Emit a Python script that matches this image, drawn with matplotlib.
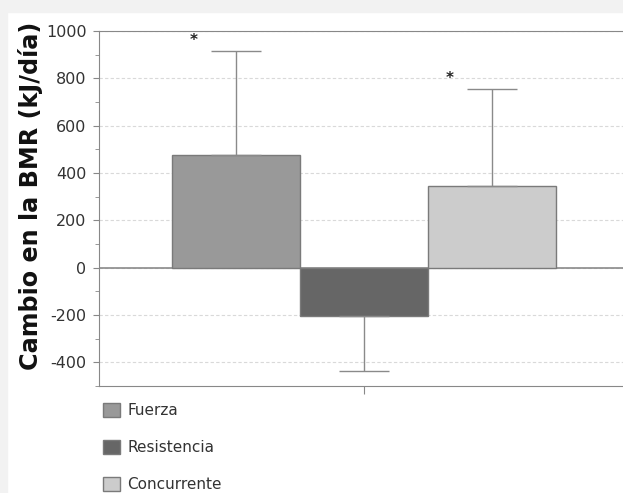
import matplotlib.pyplot as plt
from matplotlib.patches import Patch, Rectangle

# datos
grupos = ['Fuerza', 'Resistencia', 'Concurrente']
cambio = [478, -203, 346]
error_sup = [438, 0, 409]
error_inf = [0, 232, 0]
significativo = [True, False, True]
colores = ['#999999', '#666666', '#cccccc']

plt.rcParams['font.family'] = ['DejaVu Sans']
plt.rcParams['axes.unicode_minus'] = False

fig = plt.figure(figsize=(6.23, 4.93), dpi=100, facecolor='white')
# bordes grises del fondo
fig.patches.append(Rectangle((0, 1 - 12 / 493), 1, 12 / 493, transform=fig.transFigure,
                             color='#f2f2f2', zorder=-5))
fig.patches.append(Rectangle((0, 0), 7 / 623, 1, transform=fig.transFigure,
                             color='#f2f2f2', zorder=-5))

ax = fig.add_axes([99 / 623, 1 - 386 / 493, 530 / 623, 355 / 493])
pos = [-1, 0, 1]
for p, v, c, eu, ed in zip(pos, cambio, colores, error_sup, error_inf):
    ax.bar(p, v, width=1, color=c, edgecolor='#7a7a7a', linewidth=1, zorder=3)
    ax.errorbar(p, v, yerr=[[ed], [eu]], color='#8a8a8a', elinewidth=1,
                capsize=18, capthick=1, zorder=4)

for p, v, eu, s in zip(pos, cambio, error_sup, significativo):
    if s:
        ax.text(p - 0.33, v + eu + 45, '*', ha='center', va='center',
                fontsize=11, fontweight='bold', color='#222222')

ax.axhline(0, color='#8a8a8a', linewidth=1.2, zorder=2)
ax.set_ylim(-500, 1000)
ax.set_xlim(-2.07, 2.07)
ax.set_yticks(range(-400, 1001, 200))
ax.set_yticks(range(-500, 1001, 100), minor=True)
ax.set_xticks([0])
ax.set_xticklabels([''])
ax.yaxis.grid(True, linestyle=(0, (3, 2)), color='#d9d9d9', linewidth=0.8, zorder=0)
ax.tick_params(axis='y', labelsize=11.5, colors='#888888', labelcolor='#333333',
               length=4, direction='out', pad=5)
ax.tick_params(axis='y', which='minor', length=3, colors='#888888')
ax.tick_params(axis='x', length=6, colors='#888888')
for sp in ['left', 'bottom', 'top']:
    ax.spines[sp].set_color('#888888')
ax.spines['right'].set_visible(False)

ax.set_ylabel('Cambio en la BMR (kJ/día)', fontsize=17.2, fontweight='bold',
              color='#111111')
ax.yaxis.set_label_coords(-0.106, 0.535)

handles = [Patch(facecolor=c, edgecolor='#7a7a7a', label=g) for g, c in zip(grupos, colores)]
fig.legend(handles=handles, loc='upper left', bbox_to_anchor=(89 / 623, 1 - 389 / 493),
           frameon=False, fontsize=11, handlelength=1.1, handleheight=1.1,
           labelspacing=1.4, handletextpad=0.5, labelcolor='#333333')

fig.savefig('out.png', dpi=100, facecolor='white')
